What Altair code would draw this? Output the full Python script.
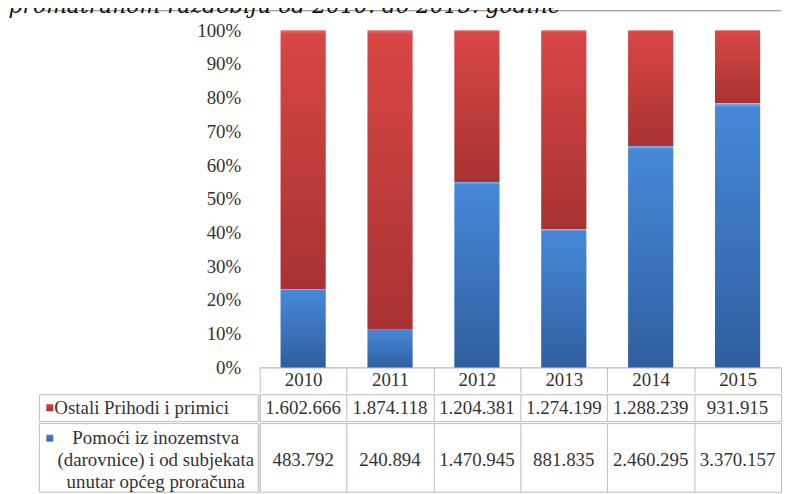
import altair as alt
import pandas as pd

# ---------------- data ----------------
years = ["2010", "2011", "2012", "2013", "2014", "2015"]
ostali = [1602666, 1874118, 1204381, 1274199, 1288239, 931915]
pomoci = [483792, 240894, 1470945, 881835, 2460295, 3370157]
series_keys = ["ostali", "pomoci"]
series_names = [
    "Ostali Prihodi i primici",
    "Pomoći iz inozemstva\n(darovnice) i od subjekata\nunutar općeg proračuna",
]
y_ticks = [0.0, 0.1, 0.2, 0.3, 0.4, 0.5, 0.6, 0.7, 0.8, 0.9, 1.0]
title_text = "promatranom razdoblju od 2010. do 2015. godine"


def fmt(v):
    return f"{v:,}".replace(",", ".")


rows = []
for i, yr in enumerate(years):
    rows.append(dict(year=yr, series="ostali", value=ostali[i], order=1, label=fmt(ostali[i])))
    rows.append(dict(year=yr, series="pomoci", value=pomoci[i], order=0, label=fmt(pomoci[i])))
df = pd.DataFrame(rows)

lab_rows = []
for key, name in zip(series_keys, series_names):
    for part in ["marker", "text"]:
        lab_rows.append(dict(series=key, name=name, part=part))
lab_df = pd.DataFrame(lab_rows)

# ---------------- style ----------------
FONT = "Liberation Serif"
TXT = "#333333"
GRID = "#d3d3d3"
AXIS = "#a8a8a8"
TABLE = "#bdbdbd"
FRAME = "#808080"


def grad(c0, c1, c2):
    return {
        "gradient": "linear", "x1": 0, "y1": 0, "x2": 0, "y2": 1,
        "stops": [
            {"offset": 0, "color": c0},
            {"offset": 0.015, "color": c1},
            {"offset": 1, "color": c2},
        ],
    }


RED = grad("#e77070", "#d94646", "#a83232")
BLUE = grad("#7fb6f0", "#4689d8", "#2f5e9f")

fill_enc = alt.condition(alt.datum.series == "ostali", alt.value(RED), alt.value(BLUE))

xs = alt.Scale(domain=years, paddingInner=0, paddingOuter=0)
ys = alt.Scale(domain=[0, 1])

PLOT_W = 524
PLOT_H = 339
LAB_W = 220

# ---------------- bar chart ----------------
bars = alt.Chart(df).mark_bar(width=alt.RelativeBandSize(0.52)).encode(
    x=alt.X("year:N", scale=xs, sort=years,
            axis=alt.Axis(title=None, orient="bottom", domainColor=AXIS, tickColor=TABLE,
                          tickBand="extent", tickSize=25, labelPadding=-12.5,
                          labelBaseline="middle", labelAngle=0, labelFont=FONT,
                          labelFontSize=19, labelColor=TXT, grid=False)),
    y=alt.Y("value:Q", stack="normalize", scale=ys,
            axis=alt.Axis(title=None, values=y_ticks, labels=False, ticks=False,
                          domainColor=AXIS, grid=True, gridColor=GRID)),
    order=alt.Order("order:Q", sort="ascending"),
    fill=fill_enc,
)

frame_top = alt.Chart(df).mark_bar(opacity=0).encode(
    x=alt.X("year:N", scale=xs, sort=years,
            axis=alt.Axis(title=None, orient="top", offset=20, labels=False, ticks=False,
                          grid=False, domainColor=FRAME)),
    y=alt.Y("value:Q", stack="normalize", scale=ys, axis=None),
)

bar_chart = alt.layer(bars, frame_top).resolve_axis(x="independent").properties(
    width=PLOT_W, height=PLOT_H, view=alt.ViewBackground(strokeWidth=0)
)

# ---------------- y-axis label cell ----------------
yaxis_chart = alt.Chart(df).mark_bar(opacity=0).encode(
    x=alt.X("year:N", scale=xs, sort=years,
            axis=alt.Axis(title=None, orient="top", offset=20, labels=False, ticks=False,
                          grid=False, domainColor=FRAME)),
    y=alt.Y("value:Q", stack="normalize", scale=ys,
            axis=alt.Axis(title=None, orient="right", values=y_ticks, format=".0%",
                          labelAlign="right", labelPadding=-17, ticks=False, domain=False,
                          grid=False, labelFont=FONT, labelFontSize=19, labelColor=TXT)),
).properties(width=LAB_W, height=PLOT_H, view=alt.ViewBackground(strokeWidth=0))


# ---------------- table rows ----------------
def value_cells(key, h, dy):
    return alt.Chart(df[df.series == key]).mark_text(
        font=FONT, fontSize=19, color=TXT, dy=dy
    ).encode(
        x=alt.X("year:N", scale=xs, sort=years,
                axis=alt.Axis(title=None, orient="top", labels=False, ticks=False,
                              domain=False, grid=True, tickBand="extent", gridColor=TABLE)),
        text="label:N",
    ).properties(width=PLOT_W, height=h,
                 view=alt.ViewBackground(stroke=TABLE, strokeWidth=1))


def label_cell(key, h, text_x, align, dy, marker_dy):
    d = lab_df[lab_df.series == key]
    px = alt.Scale(type="point", domain=["marker", "text"], range=[11, text_x], padding=0)
    marker = alt.Chart(d).transform_filter(alt.datum.part == "marker").mark_square(
        size=49, opacity=1, yOffset=marker_dy
    ).encode(x=alt.X("part:N", scale=px, axis=None), fill=fill_enc)
    txt = alt.Chart(d).transform_filter(alt.datum.part == "text").mark_text(
        font=FONT, fontSize=19, color=TXT, align=align, baseline="middle",
        lineBreak="\n", lineHeight=22.5, dy=dy
    ).encode(x=alt.X("part:N", scale=px, axis=None), text="name:N")
    return alt.layer(marker, txt).properties(
        width=LAB_W, height=h, view=alt.ViewBackground(stroke=TABLE, strokeWidth=1)
    )


lab1 = label_cell("ostali", 27, 15.5, "left", 0, 0)
val1 = value_cells("ostali", 27, 0)
lab2 = label_cell("pomoci", 69, 117.5, "center", -20, -19.5)
val2 = value_cells("pomoci", 69, 2.5)

chart = alt.concat(
    yaxis_chart, bar_chart, lab1, val1, lab2, val2,
    columns=2, spacing=0, align="each", bounds="full",
).resolve_scale(x="independent", y="independent").properties(
    title=alt.TitleParams(
        title_text, anchor="start", font="DejaVu Serif", fontSize=22,
        fontStyle="italic", fontWeight="normal", color="#111111",
        dx=-30, offset=-25, baseline="alphabetic",
    ),
    padding={"top": -14, "left": 0, "right": 0, "bottom": 0},
).configure_view(stroke="transparent")

chart.save("out.html", embed_options={"renderer": "svg", "actions": False})
